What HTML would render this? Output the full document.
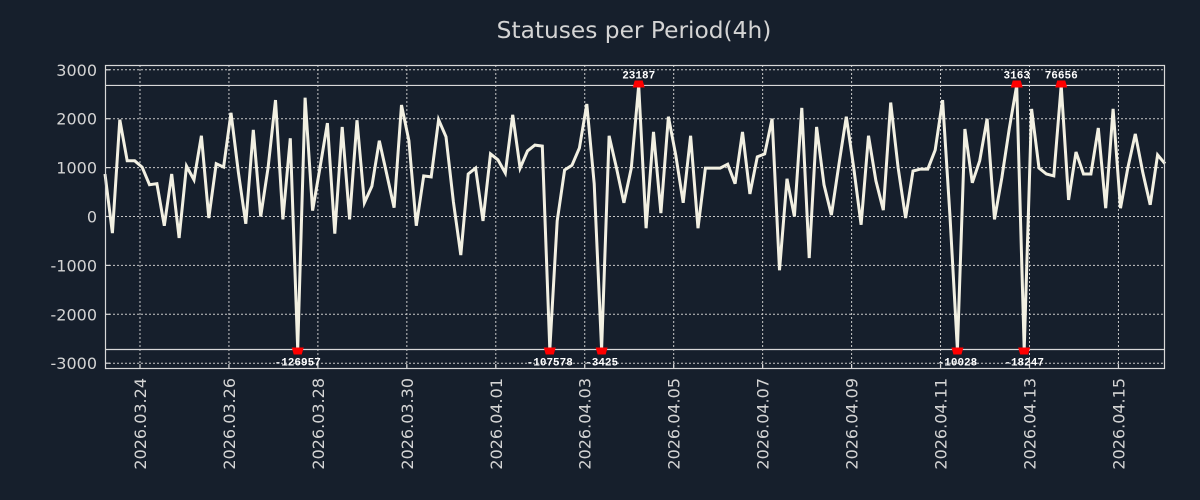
<!DOCTYPE html>
<html><head><meta charset="utf-8"><style>
html,body{margin:0;padding:0;background:#161f2c;}
svg{display:block;font-family:"DejaVu Sans","Liberation Sans",sans-serif;}
</style></head><body>
<svg id="chart" width="1200" height="500" viewBox="0 0 1200 500" xmlns="http://www.w3.org/2000/svg">
<rect x="0" y="0" width="1200" height="500" fill="#161f2c"/>
<text x="634" y="38" text-anchor="middle" font-size="23.3" fill="#d4d4d4">Statuses per Period(4h)</text>
<g id="grid"></g><g id="axes"></g><g id="series"></g><g id="markers"></g>
<rect x="105.5" y="65.5" width="1059" height="303" fill="none" stroke="#d8d8d8" stroke-width="1.2"/>
</svg>
<script>
const values = [870,-340,1980,1140,1140,1010,650,670,-190,870,-440,1030,750,1650,-30,1080,1010,2120,900,-150,1770,0,1000,2380,-60,1600,-126957,2430,120,1000,1910,-350,1830,-60,1970,280,620,1550,870,180,2280,1550,-190,830,810,1980,1630,300,-790,870,990,-90,1280,1160,890,2080,990,1340,1460,1440,-107578,-90,950,1050,1400,2300,670,-3425,1650,990,280,990,23187,-240,1730,70,2040,1250,280,1650,-240,990,990,990,1070,670,1730,460,1220,1280,2000,-1100,770,0,2220,-850,1830,650,30,1050,2040,1000,-170,1650,730,130,2330,1000,-30,930,970,970,1360,2380,0,-10028,1790,690,1140,2000,-60,800,1800,3163,-18247,2200,990,870,830,76656,340,1320,870,870,1810,170,2200,170,1000,1690,900,240,1260,1080];
const dateLabels = ["2026.03.24","2026.03.26","2026.03.28","2026.03.30","2026.04.01","2026.04.03","2026.04.05","2026.04.07","2026.04.09","2026.04.11","2026.04.13","2026.04.15"];
const yTicks = [3000,2000,1000,0,-1000,-2000,-3000];
const clipHigh = 2680, clipLow = -2720;
const firstTickIndex = 4.72, periodsPerLabel = 12;

const NS="http://www.w3.org/2000/svg";
const X0=105, X1=1165, Yzero=216.5, pxPer=0.0489;
const step=(X1-X0)/(values.length-1);
function xs(i){return X0+i*step;}
function ys(v){return Yzero - v*pxPer;}
function mk(tag,attrs,parent){const e=document.createElementNS(NS,tag);for(const k in attrs)e.setAttribute(k,attrs[k]);parent.appendChild(e);return e;}
const grid=document.getElementById('grid'),axes=document.getElementById('axes'),series=document.getElementById('series'),markers=document.getElementById('markers');

yTicks.forEach(t=>{
  const y=ys(t);
  const g=mk('line',{x1:X0,x2:X1,y1:y,y2:y,stroke:'#c8c8c8','stroke-width':1,'stroke-dasharray':'2,2'},grid);
  
  
  const tk=mk('line',{x1:X0,x2:X0+5,y1:y,y2:y,stroke:'#d8d8d8','stroke-width':1.2},axes);
  
  
  const tx=mk('text',{x:97,y:y+6,'text-anchor':'end','font-size':16,fill:'#d4d4d4'},axes);
  tx.textContent=t;
  
  
});
dateLabels.forEach((d,k)=>{
  const x=xs(firstTickIndex+k*periodsPerLabel);
  const g=mk('line',{x1:x,x2:x,y1:65,y2:369,stroke:'#c8c8c8','stroke-width':1,'stroke-dasharray':'2,2'},grid);
  
  
  const tk=mk('line',{x1:x,x2:x,y1:364,y2:369,stroke:'#d8d8d8','stroke-width':1.2},axes);
  
  
  const tx=mk('text',{x:0,y:0,'text-anchor':'end','font-size':16,fill:'#d4d4d4',transform:`translate(${x+6},378) rotate(-90)`},axes);
  tx.textContent=d;
  
  
});
[clipHigh,clipLow].forEach(c=>{
  const l=mk('line',{x1:X0,x2:X1,y1:ys(c),y2:ys(c),stroke:'#d8d8d8','stroke-width':1.2},grid);
  
  
});
const pts=values.map((v,i)=>xs(i).toFixed(1)+','+ys(Math.max(clipLow,Math.min(clipHigh,v))).toFixed(1)).join(' ');
const pl=mk('polyline',{points:pts,fill:'none',stroke:'#f2f0e2','stroke-width':3,'stroke-linejoin':'miter'},series);


values.forEach((v,i)=>{
  if(v<=clipHigh && v>=clipLow) return;
  const x=xs(i), top=v>clipHigh, y=ys(top?clipHigh:clipLow);
  const p = top ? `${x-6},${y+2} ${x+6},${y+2} ${x+4},${y-5} ${x-4},${y-5}` : `${x-6},${y-2} ${x+6},${y-2} ${x+4},${y+5} ${x-4},${y+5}`;
  const m=mk('polygon',{points:p,fill:'#ff0000'},markers);
  
  
  const t=mk('text',{x:x,y:top?y-7:y+16,'text-anchor':'middle','font-size':11,'font-weight':'bold','font-family':'"Liberation Mono","DejaVu Sans Mono",monospace',fill:'#ffffff'},markers);
  t.textContent=v;
  
  
});
</script>
</body></html>
